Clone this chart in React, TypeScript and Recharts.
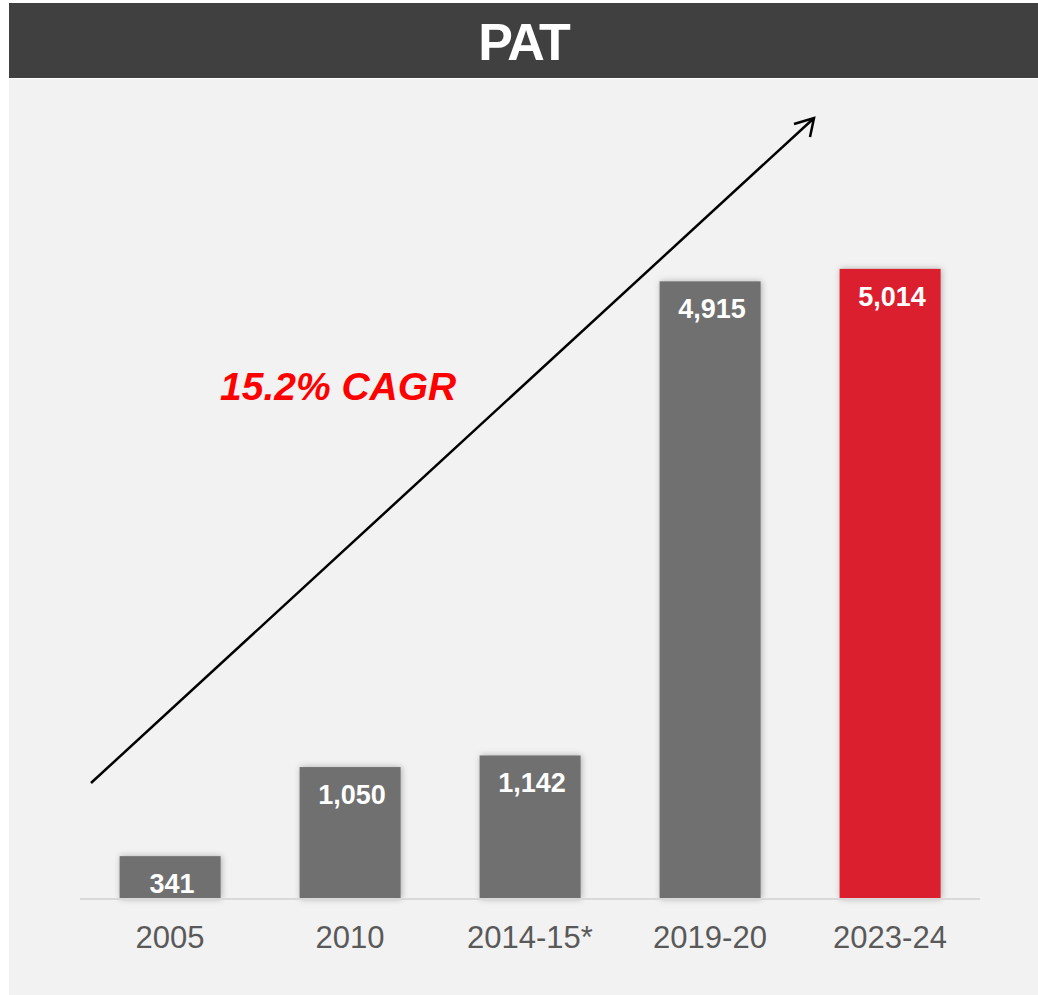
import React from 'react';
import { BarChart, Bar, XAxis, YAxis, Cell, LabelList } from 'recharts';

const periods = ['2005', '2010', '2014-15*', '2019-20', '2023-24'];
const patValues = [341, 1050, 1142, 4915, 5014];
const barColors = ['#707070', '#707070', '#707070', '#707070', '#dc1f2e'];

const FONT = '"Liberation Sans", Arial, sans-serif';

const chartData = periods.map((p, i) => ({ period: p, pat: patValues[i] }));

const ShadowBar = (props: any) => {
    const { x, y, width, height, fill } = props;
    if (height <= 0) return null;
    return (
        <rect
            x={x}
            y={y}
            width={width}
            height={height}
            fill={fill}
            style={{ filter: 'drop-shadow(1px 0px 3px rgba(0,0,0,0.28))' }}
        />
    );
};

const ValueLabel = (props: any) => {
    const { x, y, width, value } = props;
    return (
        <text
            x={x + width / 2 + 2}
            y={y + 28}
            textAnchor="middle"
            dominantBaseline="central"
            fill="#ffffff"
            fontFamily={FONT}
            fontWeight="bold"
            fontSize={27}
        >
            {Number(value).toLocaleString('en-US')}
        </text>
    );
};

export default function App() {
    return (
        <div style={{ position: 'relative', width: 1038, height: 995, background: '#ffffff', fontFamily: FONT }}>
            <style>{`body{margin:0}`}</style>
            {/* title bar */}
            <div
                style={{
                    position: 'absolute', left: 9, top: 3, width: 1029, height: 75,
                    background: '#404040', color: '#ffffff', fontWeight: 'bold',
                    fontSize: 52, letterSpacing: -2, textAlign: 'center', lineHeight: '78px'
                }}
            >
                PAT
            </div>
            <div style={{ position: 'absolute', left: 9, top: 79, width: 1029, height: 916, background: '#f2f2f2' }} />

            <div style={{ position: 'absolute', left: 0, top: 0 }}>
                <BarChart
                    width={1038}
                    height={995}
                    data={chartData}
                    margin={{ top: 145, right: 58, left: 80, bottom: 46 }}
                    barCategoryGap="22%"
                >
                    <XAxis
                        dataKey="period"
                        height={50}
                        axisLine={{ stroke: '#d9d9d9', strokeWidth: 2 }}
                        tickLine={false}
                        tickMargin={21}
                        tick={{ fill: '#595959', fontSize: 31, fontFamily: FONT }}
                        interval={0}
                    />
                    <YAxis hide domain={[0, 6000]} />
                    <Bar dataKey="pat" shape={ShadowBar} isAnimationActive={false}>
                        {chartData.map((d, i) => (
                            <Cell key={d.period} fill={barColors[i]} />
                        ))}
                        <LabelList dataKey="pat" content={ValueLabel} />
                    </Bar>
                </BarChart>
            </div>

            {/* growth arrow + CAGR note */}
            <svg
                width={1038}
                height={995}
                style={{ position: 'absolute', left: 0, top: 0, pointerEvents: 'none' }}
            >
                <line x1={91} y1={783} x2={813} y2={119} stroke="#000000" strokeWidth={2.5} />
                <polyline
                    points="794,124 814,118 810,137"
                    fill="none"
                    stroke="#000000"
                    strokeWidth={2.5}
                    strokeLinejoin="miter"
                />
                <text
                    x={220}
                    y={400}
                    fill="#ff0000"
                    fontFamily={FONT}
                    fontWeight="bold"
                    fontStyle="italic"
                    fontSize={39}
                >
                    15.2% CAGR
                </text>
            </svg>
        </div>
    );
}
